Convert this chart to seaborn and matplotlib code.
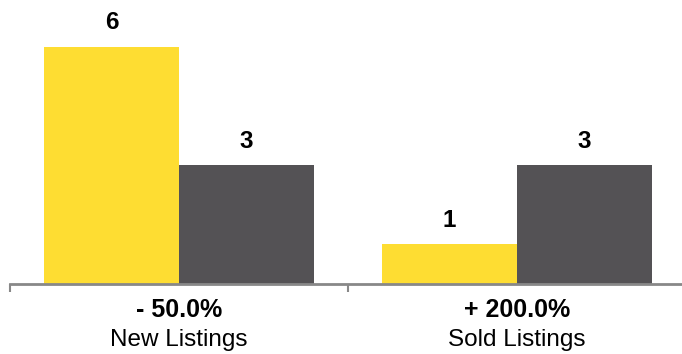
import numpy as np
import pandas as pd
import seaborn as sns
import matplotlib.pyplot as plt

categories = ['New Listings', 'Sold Listings']
changes = ['- 50.0%', '+ 200.0%']
previous = [6, 1]
current = [3, 3]

df = pd.DataFrame({
    'category': categories * 2,
    'period': ['previous'] * 2 + ['current'] * 2,
    'count': previous + current,
})

sns.set_style('white')
plt.rcParams['font.family'] = ['Liberation Sans', 'DejaVu Sans']

fig = plt.figure(figsize=(6.82, 3.54), dpi=100)
ax = fig.add_axes([10 / 682, 70 / 354, 676 / 682, 1 - 70 / 354 - 0.01])

sns.barplot(data=df, x='category', y='count', hue='period',
            palette=['#FEDD32', '#545255'], width=0.8, saturation=1,
            linewidth=0, edgecolor='none', legend=False, ax=ax)

for c in ax.containers:
    ax.bar_label(c, fontsize=17.5, fontweight='bold', padding=9, color='black')

ax.set_xlim(-0.5, 1.5)
ax.set_ylim(0, 7.1)
ax.set_xlabel('')
ax.set_ylabel('')
ax.set_yticks([])
ax.set_xticks([-0.5, 0.5, 1.5])
ax.set_xticklabels([])
ax.tick_params(axis='x', direction='out', length=6, width=1.5, color='#888888', bottom=True)
for s in ['top', 'right', 'left']:
    ax.spines[s].set_visible(False)
ax.spines['bottom'].set_color('#888888')
ax.spines['bottom'].set_linewidth(2)

for i, (chg, cat) in enumerate(zip(changes, categories)):
    ax.annotate(chg, xy=(i, 0), xycoords=('data', 'axes fraction'),
                xytext=(0, -19), textcoords='offset points',
                ha='center', va='center', fontsize=18, fontweight='bold', color='black')
    ax.annotate(cat, xy=(i, 0), xycoords=('data', 'axes fraction'),
                xytext=(0, -40), textcoords='offset points',
                ha='center', va='center', fontsize=17.5, color='black')

plt.savefig('out.png', dpi=100)
